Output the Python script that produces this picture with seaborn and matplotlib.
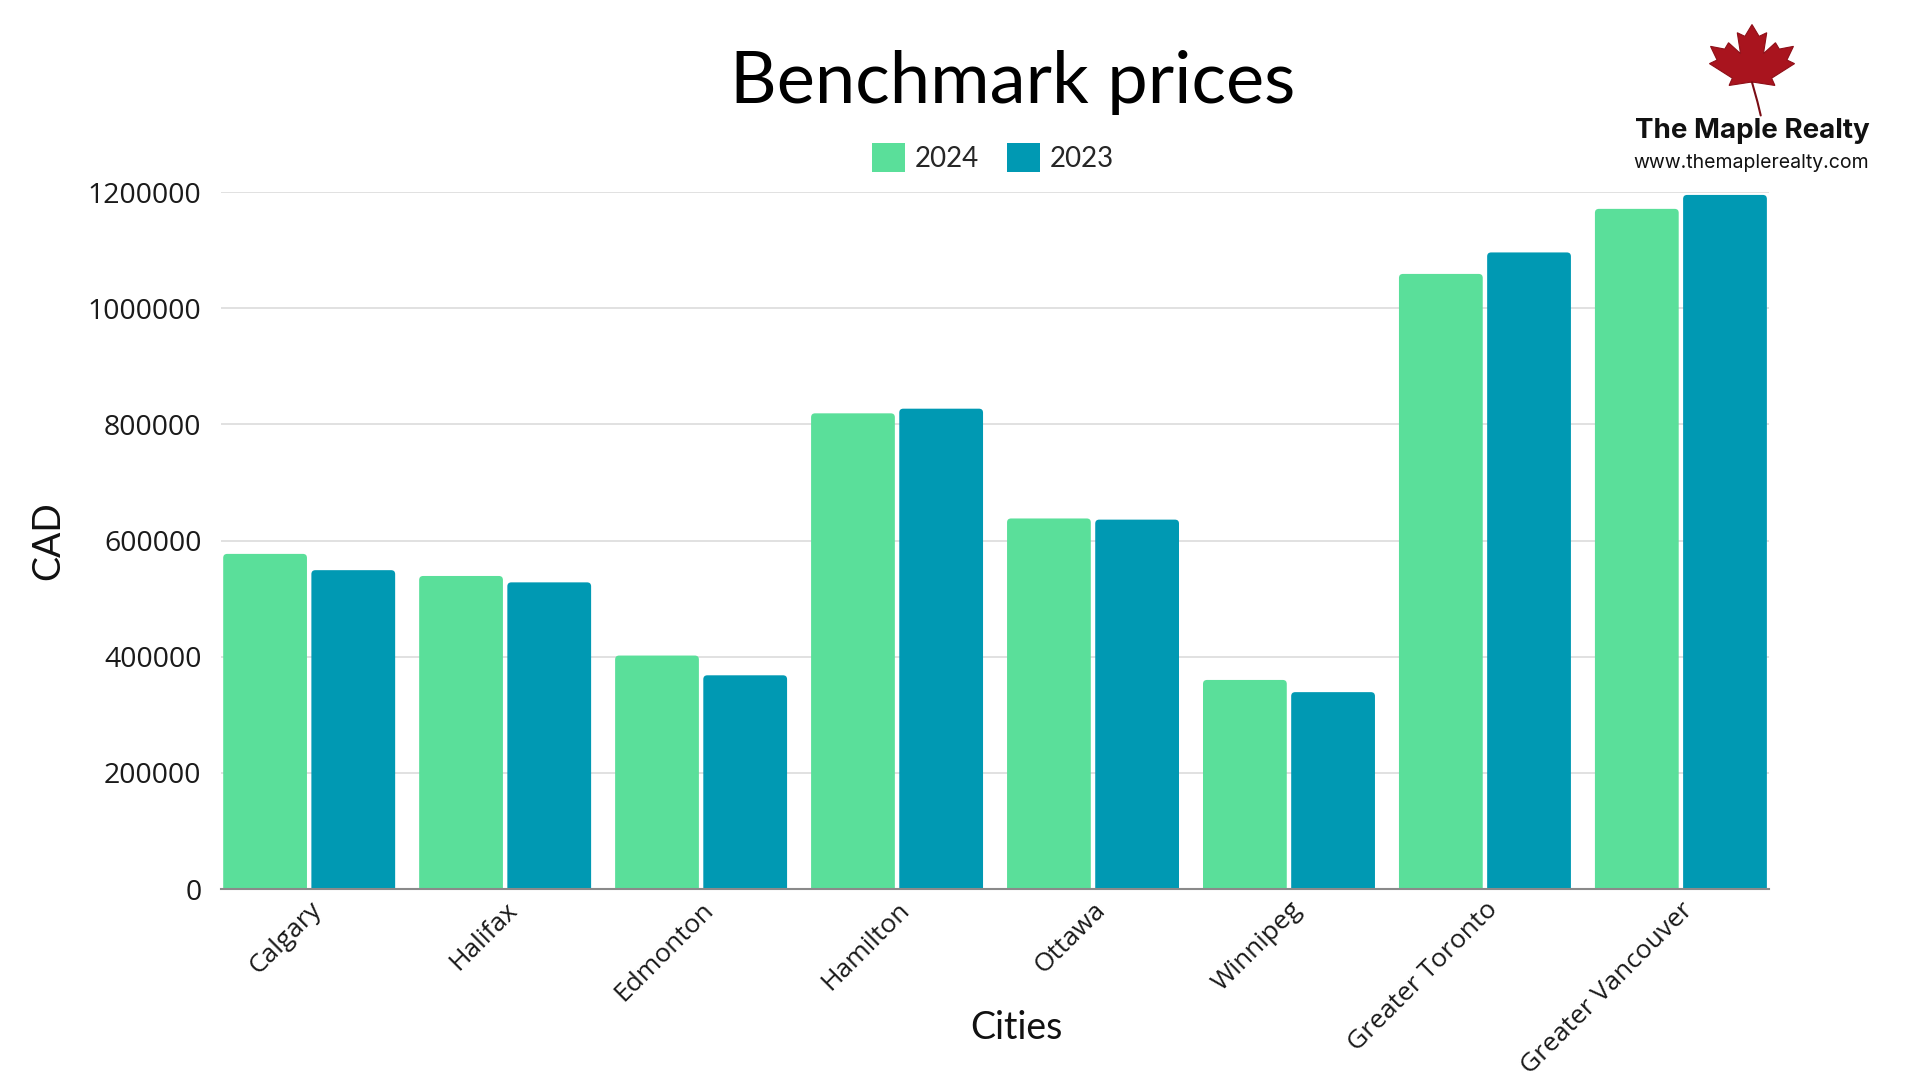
import matplotlib
matplotlib.use("Agg")
import matplotlib.pyplot as plt
from matplotlib.patches import FancyBboxPatch, Patch, Polygon
import seaborn as sns
import pandas as pd
import numpy as np

cities = ["Calgary", "Halifax", "Edmonton", "Hamilton", "Ottawa",
          "Winnipeg", "Greater Toronto", "Greater Vancouver"]
prices_2024 = [577000, 539000, 402000, 819000, 638000, 360000, 1059000, 1171000]
prices_2023 = [549000, 528000, 368000, 827000, 636000, 339000, 1096000, 1195000]
years = ["2024", "2023"]
colors = {"2024": "#5ADF9A", "2023": "#0099B3"}
y_ticks = [0, 200000, 400000, 600000, 800000, 1000000, 1200000]

df = pd.DataFrame({
    "City": cities * 2,
    "Year": ["2024"] * len(cities) + ["2023"] * len(cities),
    "CAD": prices_2024 + prices_2023,
})

sns.set_theme(style="white")
plt.rcParams["font.family"] = ["Lato", "DejaVu Sans"]
tick_font = ["Open Sans", "DejaVu Sans"]

fig = plt.figure(figsize=(19.2, 10.8), dpi=100)
ax = fig.add_axes([0.1151, 0.1768, 0.8063, 0.6454])

sns.barplot(data=df, x="City", y="CAD", hue="Year", hue_order=years,
            order=cities, palette=colors, width=0.9, gap=0.05,
            legend=False, ax=ax, saturation=1)

ax.set_xlim(-0.45, len(cities) - 1 + 0.45)
ax.set_ylim(0, 1200000)
ax.set_yticks(y_ticks)
ax.set_yticklabels([str(v) for v in y_ticks], family=tick_font, fontsize=20.5)
ax.set_xticks(range(len(cities)))
ax.set_xticklabels(cities, family=tick_font, fontsize=19,
                   rotation=45, ha="right", rotation_mode="anchor")

# rounded bar corners
fig.canvas.draw()
bbox = ax.get_window_extent()
px_per_x = bbox.width / (ax.get_xlim()[1] - ax.get_xlim()[0])
px_per_y = bbox.height / (ax.get_ylim()[1] - ax.get_ylim()[0])
rad_px = 4.0
rx = rad_px / px_per_x
ry = rad_px / px_per_y
rects = list(ax.patches)
for p in rects:
    x0, w, h = p.get_x(), p.get_width(), p.get_height()
    fc = p.get_facecolor()
    p.remove()
    fb = FancyBboxPatch((x0, -ry * 2), w, h + ry * 2,
                        boxstyle=f"round,pad=0,rounding_size={rx}",
                        mutation_aspect=ry / rx, facecolor=fc,
                        edgecolor="none", zorder=2)
    fb.set_clip_path(ax.patch)
    ax.add_patch(fb)

ax.yaxis.grid(True, color="#DCDCDC", linewidth=1.2)
ax.xaxis.grid(False)
ax.set_axisbelow(True)
for s in ["top", "right", "left"]:
    ax.spines[s].set_visible(False)
ax.spines["bottom"].set_color("#8A8A8A")
ax.spines["bottom"].set_linewidth(1.5)
ax.spines["bottom"].set_zorder(3)
ax.tick_params(axis="both", length=0, colors="#1A1A1A")
ax.tick_params(axis="y", pad=14)
ax.tick_params(axis="x", pad=6)

ax.set_xlabel("Cities", fontsize=27, color="#111111")
ax.set_ylabel("CAD", fontsize=27, color="#111111")
ax.xaxis.set_label_coords(0.514, -0.173)
ax.yaxis.set_label_coords(-0.100, 0.5)

fig.text(0.5276, 0.924, "Benchmark prices", ha="center", va="center",
         fontsize=52, color="#000000")

handles = [Patch(facecolor=colors[y], edgecolor="none", label=y) for y in years]
fig.legend(handles=handles, loc="center", bbox_to_anchor=(0.517, 0.854),
           ncol=2, frameon=False, fontsize=20, handlelength=1.2,
           handleheight=1.2, handletextpad=0.35, columnspacing=1.0)

# logo
lax = fig.add_axes([1692 / 1920, 1 - 120 / 1080, 120 / 1920, 100 / 1080])
lax.set_xlim(-1.1, 1.1)
lax.set_ylim(-1.1, 1.1)
lax.axis("off")
half = [(0.0, 1.0), (0.13, 0.74), (0.27, 0.82), (0.21, 0.36), (0.43, 0.6),
        (0.5, 0.46), (0.76, 0.52), (0.64, 0.22), (0.78, 0.14), (0.36, -0.18),
        (0.42, -0.34), (0.04, -0.27)]
pts = half + [(-x, y) for x, y in reversed(half[1:])]
lax.add_patch(Polygon(pts, closed=True, facecolor="#A9141E", edgecolor="#8E0F18",
                      linewidth=0.8))
lax.plot([0.0, 0.1, 0.16], [-0.27, -0.7, -1.0], color="#7A0C14", linewidth=1.5)
fig.text(1752 / 1920, 1 - 131 / 1080, "The Maple Realty", ha="center",
         va="center", fontsize=20, fontweight="bold", color="#111111",
         family=["Inter", "DejaVu Sans"])
fig.text(1751 / 1920, 1 - 163 / 1080, "www.themaplerealty.com", ha="center",
         va="center", fontsize=14, color="#111111", family=["Inter", "DejaVu Sans"])

fig.savefig("out.png", dpi=100, facecolor="white")
